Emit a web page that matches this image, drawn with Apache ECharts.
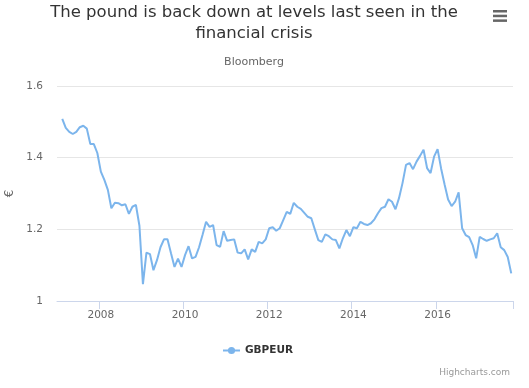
<!DOCTYPE html>
<html>
<head>
<meta charset="utf-8">
<script src="https://cdn.jsdelivr.net/npm/echarts@6/dist/echarts.min.js"></script>
<style>
html,body{margin:0;padding:0;background:#fff;}
#chart{width:529px;height:388px;}
</style>
</head>
<body>
<div id="chart"></div>
<script>
// ---- data ----
var startYear = 2007;
var monthCount = 130; // Jan 2007 .. Oct 2017
var tickYears = ['2008', '2010', '2012', '2014', '2016'];
var seriesName = 'GBPEUR';
var gbpeur = [
  null, 1.508, 1.483, 1.472, 1.466, 1.472, 1.485, 1.489, 1.481, 1.438,
  1.438, 1.413, 1.361, 1.338, 1.310, 1.259, 1.274, 1.273, 1.267, 1.270,
  1.243, 1.263, 1.268, 1.210, 1.047, 1.135, 1.131, 1.086, 1.114, 1.150,
  1.172, 1.172, 1.133, 1.095, 1.118, 1.095, 1.128, 1.153, 1.119, 1.123,
  1.150, 1.185, 1.221, 1.207, 1.212, 1.156, 1.151, 1.195, 1.168, 1.170,
  1.172, 1.135, 1.133, 1.144, 1.116, 1.144, 1.137, 1.165, 1.161, 1.172,
  1.203, 1.206, 1.196, 1.203, 1.226, 1.249, 1.243, 1.274, 1.263, 1.257,
  1.246, 1.235, 1.231, 1.200, 1.170, 1.165, 1.186, 1.181, 1.172, 1.170,
  1.147, 1.175, 1.198, 1.181, 1.206, 1.203, 1.221, 1.215, 1.212, 1.217,
  1.228, 1.245, 1.259, 1.263, 1.284, 1.277, 1.256, 1.287, 1.329, 1.380,
  1.385, 1.368, 1.389, 1.405, 1.422, 1.371, 1.357, 1.403, 1.424, 1.370,
  1.325, 1.283, 1.265, 1.277, 1.303, 1.203, 1.184, 1.178, 1.156, 1.119,
  1.179, 1.173, 1.168, 1.172, 1.175, 1.189, 1.150, 1.142, 1.123, 1.077
];
var titleLines = ['The pound is back down at levels last seen in the', 'financial crisis'];
var subtitleText = 'Bloomberg';
var yAxisTitle = '€';

var months = [];
for (var i = 0; i < monthCount; i++) {
  var y = startYear + Math.floor(i / 12);
  var m = (i % 12) + 1;
  months.push(y + '-' + (m < 10 ? '0' + m : m));
}
function isTick(idx) {
  var c = months[idx];
  return c.slice(5) === '01' && tickYears.indexOf(c.slice(0, 4)) >= 0;
}

var FONT = '"DejaVu Sans", Verdana, sans-serif';
var chart = echarts.init(document.getElementById('chart'), null, {renderer: 'canvas'});
chart.setOption({
  backgroundColor: '#ffffff',
  animation: false,
  textStyle: {fontFamily: FONT},
  grid: {left: 57, right: 16, top: 86, bottom: 87, containLabel: false, outerBoundsMode: 'none'},
  graphic: [
    {type: 'text', x: 254, y: 13, style: {text: titleLines[0], fontFamily: FONT, fontSize: 16.5, fill: '#333333', textAlign: 'center', textVerticalAlign: 'middle'}},
    {type: 'text', x: 254, y: 34, style: {text: titleLines[1], fontFamily: FONT, fontSize: 16.5, fill: '#333333', textAlign: 'center', textVerticalAlign: 'middle'}},
    {type: 'text', x: 254, y: 57, style: {text: subtitleText, fontFamily: FONT, fontSize: 11, fill: '#666666', textAlign: 'center', textVerticalAlign: 'top'}},
    {type: 'text', x: 510, y: 368, style: {text: 'Highcharts.com', fontFamily: FONT, fontSize: 9, fill: '#999999', textAlign: 'right', textVerticalAlign: 'top'}},
    {type: 'rect', shape: {x: 493, y: 10, width: 14, height: 2.5}, style: {fill: '#666666'}},
    {type: 'rect', shape: {x: 493, y: 14.7, width: 14, height: 2.5}, style: {fill: '#666666'}},
    {type: 'rect', shape: {x: 493, y: 19.4, width: 14, height: 2.5}, style: {fill: '#666666'}}
  ],
  legend: {
    left: 217, top: 340,
    itemWidth: 17, itemHeight: 9, itemGap: 8,
    textStyle: {fontFamily: FONT, fontSize: 10.5, fontWeight: 'bold', color: '#333333'},
    data: [{name: seriesName}]
  },
  xAxis: {
    type: 'category',
    data: months,
    boundaryGap: true,
    axisLine: {lineStyle: {color: '#ccd6eb', width: 1}},
    axisTick: {show: true, length: 8, interval: function (idx) { return isTick(idx); }, lineStyle: {color: '#ccd6eb'}},
    axisLabel: {
      interval: function (idx) { return isTick(idx); },
      formatter: function (v) { return v.slice(0, 4); },
      color: '#666666', fontSize: 10.5, fontFamily: FONT, margin: 9
    },
    splitLine: {show: false}
  },
  yAxis: {
    type: 'value',
    min: 1, max: 1.6, interval: 0.2,
    name: yAxisTitle,
    nameLocation: 'middle',
    nameRotate: 90,
    nameGap: 37,
    nameTextStyle: {color: '#666666', fontSize: 12, fontFamily: FONT},
    axisLine: {show: false},
    axisTick: {show: false},
    axisLabel: {color: '#666666', fontSize: 10.5, fontFamily: FONT, margin: 14},
    splitLine: {lineStyle: {color: '#e6e6e6', width: 1}}
  },
  series: [{
    name: seriesName,
    type: 'line',
    data: gbpeur,
    showSymbol: false,
    symbol: 'circle',
    symbolSize: 8,
    connectNulls: false,
    itemStyle: {color: '#7cb5ec'},
    lineStyle: {color: '#7cb5ec', width: 2}
  }]
});
</script>
</body>
</html>
